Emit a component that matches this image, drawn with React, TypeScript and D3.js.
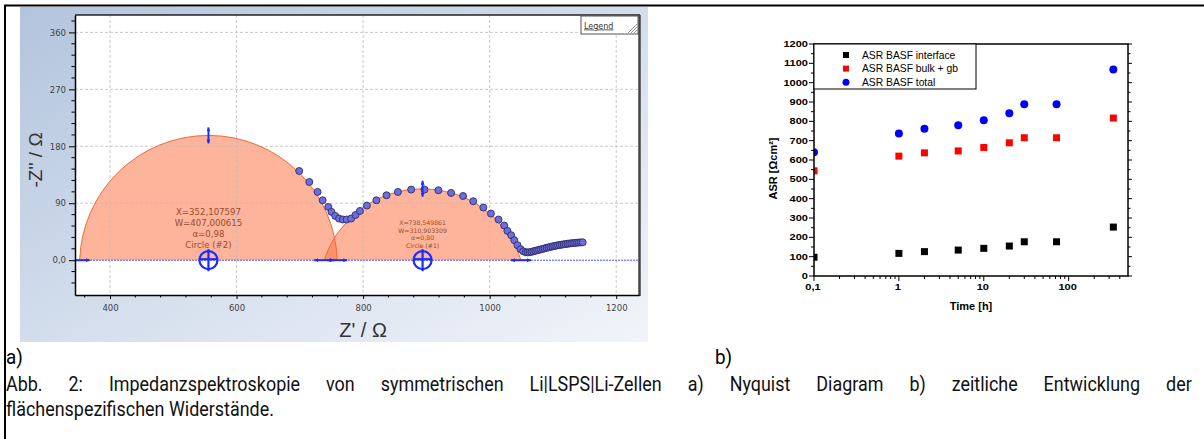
import React, { useEffect, useRef } from 'react';
import * as d3 from 'd3';

// ---------- a) Nyquist diagram ----------
// fitted circles, as printed in the annotation boxes
const circleNames = ['Circle (#2)', 'Circle (#1)'];
const circleX = [352.107597, 738.549861];
const circleW = [407.000615, 310.903309];
const circleAlpha = [0.98, 0.8];
const circleXText = ['X=352,107597', 'X=738,549861'];
const circleWText = ['W=407,000615', 'W=310,903309'];
const circleAText = ['α=0,98', 'α=0,80'];

// measured impedance points (Z' , -Z'')
const zReal = [699, 715, 728, 736, 745, 750, 756, 762, 768, 774, 781, 788, 795, 806, 821, 837, 855, 876, 897, 919,
  939, 958, 974, 990, 1002, 1014, 1023, 1028, 1034, 1039, 1044, 1049, 1053, 1057, 1060, 1063, 1066, 1069, 1072,
  1075, 1078, 1081, 1084, 1087, 1090, 1093, 1096, 1099, 1102, 1105, 1108, 1111, 1114, 1117, 1120, 1123, 1126,
  1129, 1132, 1135, 1138, 1141, 1144, 1147];
const zImag = [141, 123.6, 107.9, 94.7, 84.2, 76.3, 70, 65.8, 64.3, 64.3, 65.8, 71.5, 77.8, 86.3, 94.7, 102.6, 107.9,
  111.6, 111.6, 110.5, 106.3, 101.5, 93.2, 83.2, 73.7, 64.3, 54.8, 46.3, 39.5, 31.6, 23.7, 17.4, 14.0, 12.6, 12.3,
  12.6, 13.2, 14.0, 14.8, 15.5, 16.4, 17.1, 17.9, 18.7, 19.6, 20.2, 21.0, 21.7, 22.3, 23.0, 23.6, 24.0, 24.6, 25.1,
  25.5, 25.9, 26.4, 26.7, 27.0, 27.4, 27.6, 27.9, 28.1, 28.3];

const nyqXTicks = [400, 600, 800, 1000, 1200];
const nyqYTicks = [0, 90, 180, 270, 360];
const nyqYTickLabels = ['0,0', '90', '180', '270', '360'];

// ---------- b) ASR over time ----------
const times = [0.1, 1, 2, 5, 10, 20, 30, 72, 336];
const asrInterface = [97, 117, 126, 134, 143, 155, 177, 177, 253];
const asrBulk = [544, 620, 637, 647, 665, 689, 715, 715, 817];
const asrTotal = [640, 737, 761, 780, 806, 842, 889, 889, 1068];
const seriesNames = ['ASR BASF interface', 'ASR BASF bulk + gb', 'ASR BASF total'];
const asrYTicks = [0, 100, 200, 300, 400, 500, 600, 700, 800, 900, 1000, 1100, 1200];
const asrXTicks = [0.1, 1, 10, 100];
const asrXTickLabels = ['0,1', '1', '10', '100'];

const captionLine1 = 'Abb. 2: Impedanzspektroskopie von symmetrischen Li|LSPS|Li-Zellen a) Nyquist Diagram b) zeitliche Entwicklung der';
const captionLine2 = 'flächenspezifischen Widerstände.';

const W = 1204;
const H = 439;
const BLUE = '#1c2bff';

function App() {
  const ref = useRef<SVGSVGElement>(null);

  useEffect(() => {
    const svg = d3.select(ref.current);
    svg.selectAll('*').remove();

    const defs = svg.append('defs');
    const grad = defs.append('linearGradient').attr('id', 'panelGrad')
      .attr('x1', 0).attr('y1', 0).attr('x2', 1).attr('y2', 1);
    grad.append('stop').attr('offset', '0%').attr('stop-color', '#b2c4dd');
    grad.append('stop').attr('offset', '60%').attr('stop-color', '#d9e2ef');
    grad.append('stop').attr('offset', '100%').attr('stop-color', '#f1f4fa');
    defs.append('clipPath').attr('id', 'nyqClip').append('rect')
      .attr('x', 75).attr('y', 15).attr('width', 564).attr('height', 280);
    defs.append('clipPath').attr('id', 'asrClip').append('rect')
      .attr('x', 814).attr('y', 44).attr('width', 314).attr('height', 232);
    defs.append('marker').attr('id', 'arr').attr('viewBox', '0 0 6 6')
      .attr('refX', 6).attr('refY', 3).attr('markerWidth', 4).attr('markerHeight', 4)
      .attr('markerUnits', 'userSpaceOnUse').attr('orient', 'auto-start-reverse')
      .append('path').attr('d', 'M0,0L6,3L0,6Z').attr('fill', BLUE);

    svg.append('rect').attr('width', W).attr('height', H).attr('fill', '#fff');

    // outer frame
    svg.append('line').attr('x1', 4).attr('x2', W).attr('y1', 5.5).attr('y2', 5.5)
      .attr('stroke', '#000').attr('stroke-width', 2);
    svg.append('line').attr('x1', 5).attr('x2', 5).attr('y1', 5).attr('y2', H)
      .attr('stroke', '#000').attr('stroke-width', 2);

    // ===== Nyquist panel =====
    svg.append('rect').attr('x', 20).attr('y', 7).attr('width', 628).attr('height', 335)
      .attr('fill', 'url(#panelGrad)');
    svg.append('rect').attr('x', 75).attr('y', 15).attr('width', 564).attr('height', 280).attr('fill', '#fff');

    const x = d3.scaleLinear().domain([344.7, 1236]).range([75, 639]);
    const y = d3.scaleLinear().domain([-55, 387.5]).range([295, 15]);

    const fits = circleX.map((X, i) => {
      const th = (1 - circleAlpha[i]) * Math.PI / 2;
      const half = circleW[i] / 2;
      const d = half * Math.tan(th);
      const R = half / Math.cos(th);
      return { X, Wd: circleW[i], cx: X + half, top: R - d, R, i };
    });

    const plot = svg.append('g').attr('clip-path', 'url(#nyqClip)');
    const arcPath = (f: any, close: boolean) => {
      const r = x(f.cx + f.R) - x(f.cx);
      return `M${x(f.X)},${y(0)}A${r},${r} 0 0 1 ${x(f.X + f.Wd)},${y(0)}${close ? 'Z' : ''}`;
    };
    plot.selectAll('.fit').data(fits).join('path').attr('class', 'fit')
      .attr('d', f => arcPath(f, true)).attr('fill', '#fb7040').attr('fill-opacity', 0.52);

    // grid
    plot.selectAll('.vgrid').data(nyqXTicks).join('line').attr('class', 'vgrid')
      .attr('x1', d => x(d)).attr('x2', d => x(d)).attr('y1', 15).attr('y2', 295)
      .attr('stroke', '#bdbdbd').attr('stroke-width', 0.8).attr('stroke-dasharray', '3,2');
    plot.selectAll('.hgrid').data(nyqYTicks.slice(1)).join('line').attr('class', 'hgrid')
      .attr('x1', 75).attr('x2', 639).attr('y1', d => y(d)).attr('y2', d => y(d))
      .attr('stroke', '#bdbdbd').attr('stroke-width', 0.8).attr('stroke-dasharray', '3,2');
    plot.append('line').attr('x1', 75).attr('x2', 639).attr('y1', y(0)).attr('y2', y(0))
      .attr('stroke', '#4455ff').attr('stroke-width', 1).attr('stroke-dasharray', '2,1');

    // arc outlines
    plot.selectAll('.fitline').data(fits).join('path').attr('class', 'fitline')
      .attr('d', f => arcPath(f, false))
      .attr('fill', 'none').attr('stroke', '#f2693a').attr('stroke-width', 1);

    // data points
    plot.selectAll('.pt').data(zReal).join('circle').attr('class', 'pt')
      .attr('cx', d => x(d)).attr('cy', (d, i) => y(zImag[i])).attr('r', 3.5)
      .attr('fill', '#6d6ddc').attr('stroke', '#2c2c6a').attr('stroke-width', 0.9);

    // handles
    fits.forEach(f => {
      const cxp = x(f.cx);
      plot.append('line').attr('x1', cxp).attr('x2', cxp).attr('y1', y(f.top) - 8).attr('y2', y(f.top) + 8)
        .attr('stroke', BLUE).attr('stroke-width', 2)
        .attr('marker-start', 'url(#arr)').attr('marker-end', 'url(#arr)');
      [f.X, f.X + f.Wd].forEach(e => {
        plot.append('line').attr('x1', x(e) - 10).attr('x2', x(e) + 10).attr('y1', y(0)).attr('y2', y(0))
          .attr('stroke', BLUE).attr('stroke-width', 2)
          .attr('marker-start', 'url(#arr)').attr('marker-end', 'url(#arr)');
      });
      const c = plot.append('g').attr('transform', `translate(${cxp},${y(0)})`)
        .attr('stroke', BLUE).attr('stroke-width', 2.2).attr('fill', 'none');
      c.append('circle').attr('r', 9);
      c.append('line').attr('x1', 0).attr('x2', 0).attr('y1', -11).attr('y2', 11);
      c.append('line').attr('x1', -9).attr('x2', 9).attr('y1', -1).attr('y2', -1);
    });

    // annotation boxes
    const annSize = [8.6, 6.2];
    const annBase = [[215, 226, 237, 247.5], [225, 232.5, 240, 247.5]];
    fits.forEach(f => {
      const lines = [circleXText[f.i], circleWText[f.i], circleAText[f.i], circleNames[f.i]];
      svg.append('g').attr('font-family', 'DejaVu Sans, Verdana, sans-serif').attr('font-size', annSize[f.i])
        .attr('fill', '#9a4a2a').attr('text-anchor', 'middle')
        .selectAll('text').data(lines).join('text')
        .attr('x', x(f.cx)).attr('y', (d, j) => annBase[f.i][j]).text(d => d);
    });

    // plot frame
    svg.append('line').attr('x1', 75).attr('x2', 640).attr('y1', 15).attr('y2', 15).attr('stroke', '#222').attr('stroke-width', 1.5);
    svg.append('line').attr('x1', 639.5).attr('x2', 639.5).attr('y1', 15).attr('y2', 296).attr('stroke', '#444').attr('stroke-width', 2.5);

    // axes
    const yAxis = svg.append('g').attr('transform', 'translate(75,0)')
      .call(d3.axisLeft(y).tickValues(nyqYTicks).tickSize(6).tickPadding(3).tickSizeOuter(0)
        .tickFormat((d, i) => nyqYTickLabels[i]));
    svg.append('g').selectAll('line').data(d3.range(-36, 387, 18).filter(v => v % 90 !== 0)).join('line')
      .attr('x1', 71.5).attr('x2', 75).attr('y1', d => y(d)).attr('y2', d => y(d)).attr('stroke', '#000');
    const xAxis = svg.append('g').attr('transform', 'translate(0,295)')
      .call(d3.axisBottom(x).tickValues(nyqXTicks).tickSize(4).tickPadding(6).tickSizeOuter(0)
        .tickFormat(d => String(d)));
    svg.append('g').selectAll('line').data(d3.range(360, 1236, 40).filter(v => v % 200 !== 0)).join('line')
      .attr('x1', d => x(d)).attr('x2', d => x(d)).attr('y1', 295).attr('y2', 297.5).attr('stroke', '#000');
    [yAxis, xAxis].forEach(a => {
      a.select('.domain').attr('stroke', '#000').attr('stroke-width', 1.5);
      a.selectAll('text').attr('font-family', 'DejaVu Sans, Verdana, sans-serif').attr('font-size', 8.5).attr('fill', '#444');
    });

    svg.append('text').attr('x', 363).attr('y', 336.5).attr('text-anchor', 'middle')
      .attr('font-family', 'Liberation Sans, Arial, sans-serif').attr('font-size', 20).attr('fill', '#333')
      .text("Z' / Ω");
    svg.append('text').attr('transform', 'translate(42,160) rotate(-90)').attr('text-anchor', 'middle')
      .attr('font-family', 'Liberation Sans, Arial, sans-serif').attr('font-size', 19).attr('fill', '#333')
      .text("-Z'' / Ω");

    // legend button
    svg.append('rect').attr('x', 581).attr('y', 16).attr('width', 57).attr('height', 18)
      .attr('fill', '#fff').attr('stroke', '#555').attr('stroke-width', 1);
    svg.append('text').attr('x', 584).attr('y', 28.5).attr('font-family', 'DejaVu Sans, Verdana, sans-serif')
      .attr('font-size', 8).attr('fill', '#333').attr('text-decoration', 'underline').text('Legend');
    svg.append('g').attr('stroke', '#777').attr('stroke-width', 0.8).selectAll('line').data([0, 3, 6, 9]).join('line')
      .attr('x1', d => 637 - d).attr('y1', 33).attr('x2', 637).attr('y2', d => 33 - d);

    // ===== ASR panel =====
    const tx = d3.scaleLog().domain([0.1, 500]).range([814, 1128]);
    const ty = d3.scaleLinear().domain([0, 1200]).range([276, 44]);

    const asr = svg.append('g').attr('clip-path', 'url(#asrClip)');
    const squares = (vals: number[], color: string) =>
      asr.append('g').selectAll('rect').data(vals).join('rect')
        .attr('x', (d, i) => tx(times[i]) - 3.5).attr('y', d => ty(d) - 3.5)
        .attr('width', 7).attr('height', 7).attr('fill', color);
    squares(asrInterface, '#000');
    squares(asrBulk, '#ff0000');
    asr.append('g').selectAll('circle').data(asrTotal).join('circle')
      .attr('cx', (d, i) => tx(times[i])).attr('cy', d => ty(d)).attr('r', 4).attr('fill', '#0000ff');

    const frame = svg.append('g').attr('stroke', '#000').attr('fill', 'none');
    frame.append('rect').attr('x', 814).attr('y', 44).attr('width', 314).attr('height', 232).attr('stroke-width', 1.5);

    // ticks
    const tk = svg.append('g').attr('stroke', '#000').attr('stroke-width', 1);
    asrYTicks.forEach(v => {
      tk.append('line').attr('x1', 809).attr('x2', 814).attr('y1', ty(v)).attr('y2', ty(v));
      tk.append('line').attr('x1', 1128).attr('x2', 1132).attr('y1', ty(v)).attr('y2', ty(v));
    });
    d3.range(50, 1200, 100).forEach(v => {
      tk.append('line').attr('x1', 811).attr('x2', 814).attr('y1', ty(v)).attr('y2', ty(v));
      tk.append('line').attr('x1', 1128).attr('x2', 1130.5).attr('y1', ty(v)).attr('y2', ty(v));
    });
    asrXTicks.forEach(v => {
      tk.append('line').attr('x1', tx(v)).attr('x2', tx(v)).attr('y1', 276).attr('y2', 281);
    });
    [0.1, 1, 10, 100].forEach(dec => {
      d3.range(2, 10).forEach(m => {
        const v = dec * m;
        if (v < 500) tk.append('line').attr('x1', tx(v)).attr('x2', tx(v)).attr('y1', 276).attr('y2', 279);
      });
    });

    const lab = svg.append('g').attr('font-family', 'Liberation Sans, Arial, sans-serif')
      .attr('font-weight', 'bold').attr('font-size', 8.5).attr('fill', '#000');
    asrYTicks.forEach(v => {
      lab.append('text').attr('transform', `translate(808,${ty(v) + 3}) scale(1.3,1)`)
        .attr('text-anchor', 'end').text(String(v));
    });
    asrXTicks.forEach((v, i) => {
      lab.append('text').attr('transform', `translate(${tx(v) - 1},290) scale(1.3,1)`)
        .attr('text-anchor', 'middle').text(asrXTickLabels[i]);
    });
    svg.append('text').attr('x', 971).attr('y', 309.5).attr('text-anchor', 'middle')
      .attr('font-family', 'Liberation Sans, Arial, sans-serif').attr('font-weight', 'bold').attr('font-size', 11)
      .text('Time [h]');
    svg.append('text').attr('transform', 'translate(777,168.5) rotate(-90)').attr('text-anchor', 'middle')
      .attr('font-family', 'Liberation Sans, Arial, sans-serif').attr('font-weight', 'bold').attr('font-size', 11)
      .text('ASR [Ωcm²]');

    // legend
    svg.append('rect').attr('x', 814).attr('y', 44).attr('width', 162).attr('height', 45)
      .attr('fill', '#fff').attr('stroke', '#000').attr('stroke-width', 1);
    const legColors = ['#000', '#ff0000', '#0000ff'];
    const leg = svg.append('g').selectAll('g').data(seriesNames).join('g')
      .attr('transform', (d, i) => `translate(846,${55 + i * 13.6})`);
    leg.each(function (d, i) {
      const g = d3.select(this);
      if (i < 2) g.append('rect').attr('x', -3).attr('y', -3).attr('width', 6).attr('height', 6).attr('fill', legColors[i]);
      else g.append('circle').attr('r', 3.5).attr('fill', legColors[i]);
    });
    leg.append('text').attr('x', 16).attr('y', 3.6).attr('font-family', 'Liberation Sans, Arial, sans-serif')
      .attr('font-size', 10.3).text(d => d);

    // ===== captions =====
    const capFont = 'Roboto, sans-serif';
    const capSize = 20;
    svg.append('text').attr('transform', 'translate(6,364) scale(0.9,1)').attr('font-family', capFont)
      .attr('font-size', 21).text('a)');
    svg.append('text').attr('transform', 'translate(715,364) scale(0.9,1)').attr('font-family', capFont)
      .attr('font-size', 21).text('b)');

    const cap = svg.append('g').attr('font-family', capFont).attr('font-size', capSize).attr('fill', '#111');
    const t2 = cap.append('text').text(captionLine2);
    const w2 = (t2.node() as SVGTextElement).getComputedTextLength();
    const sx = Math.min(1, 268 / w2);
    t2.attr('transform', `translate(6,416) scale(${sx},1)`);
    const t1 = cap.append('text').text(captionLine1);
    const w1 = (t1.node() as SVGTextElement).getComputedTextLength();
    const gaps = captionLine1.split(' ').length - 1;
    t1.attr('word-spacing', Math.max(0, (1186 / sx - w1) / gaps)).attr('transform', `translate(6,391) scale(${sx},1)`);
  }, []);

  return (
    <div className="charts">
      <svg ref={ref} width={W} height={H} style={{ position: 'absolute', left: 0, top: 0 }}></svg>
    </div>
  );
}

export default App;
